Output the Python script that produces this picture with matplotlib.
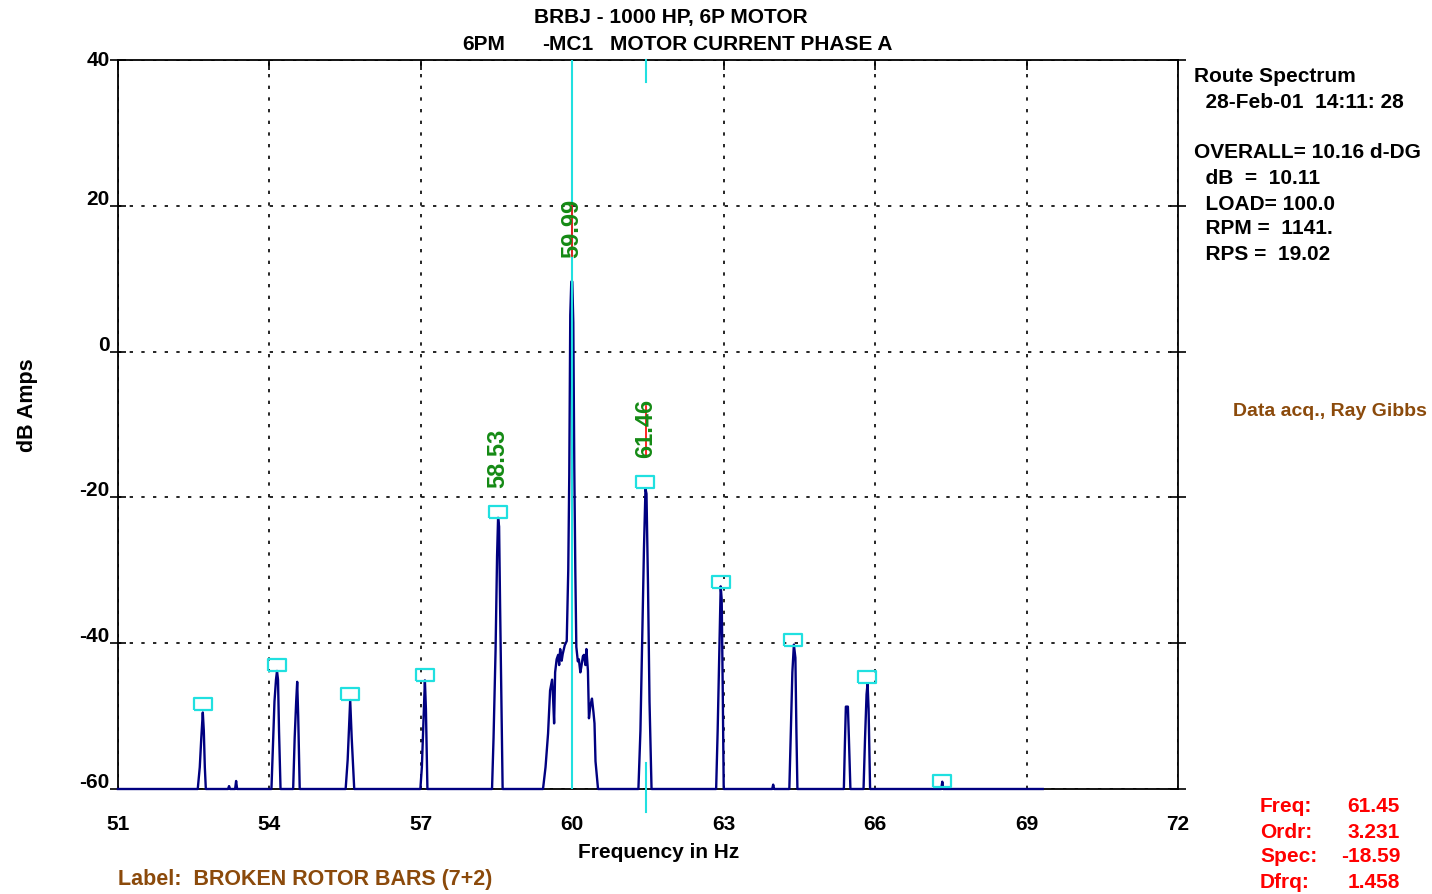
import matplotlib
matplotlib.use("Agg")
import matplotlib.pyplot as plt
from matplotlib.transforms import ScaledTranslation

plt.rcParams["font.family"] = ["Liberation Sans", "DejaVu Sans"]
plt.rcParams["font.weight"] = "bold"

# spectrum trace (Hz, dB)
trace_freq = [51.0, 52.58, 52.62, 52.65, 52.68, 52.70, 52.72, 52.74,
              53.18, 53.20, 53.22, 53.32, 53.34, 53.36,
              54.04, 54.07, 54.10, 54.13, 54.15, 54.17, 54.19, 54.22,
              54.47, 54.50, 54.53, 54.55, 54.57, 54.60,
              55.51, 55.55, 55.58, 55.60, 55.63, 55.68,
              56.99, 57.02, 57.05, 57.08, 57.10, 57.13,
              58.41, 58.44, 58.48, 58.51, 58.53, 58.55, 58.57, 58.60, 58.62,
              59.42, 59.47, 59.52, 59.56, 59.60, 59.62, 59.64, 59.66, 59.69,
              59.72, 59.74, 59.76, 59.79, 59.81, 59.85, 59.89, 59.92, 59.94,
              59.96, 59.98, 60.00, 60.02, 60.04, 60.06, 60.08, 60.11, 60.13,
              60.16, 60.18, 60.21, 60.23, 60.26, 60.28, 60.31, 60.33, 60.36,
              60.39, 60.42, 60.44, 60.46, 60.51,
              61.31, 61.35, 61.39, 61.42, 61.45, 61.47, 61.50, 61.53, 61.57,
              62.85, 62.88, 62.91, 62.94, 62.96, 62.98, 63.00,
              63.96, 63.98, 64.00,
              64.30, 64.33, 64.36, 64.39, 64.42, 64.44, 64.46,
              65.38, 65.40, 65.42, 65.46, 65.48, 65.51,
              65.77, 65.80, 65.83, 65.85, 65.87, 65.90,
              67.31, 67.33, 67.35, 69.32]
trace_db = [-60, -60, -57, -53, -49.5, -52, -57, -60,
            -60, -59.6, -60, -60, -58.9, -60,
            -60, -54, -48, -45, -43.8, -45, -52, -60,
            -60, -53, -48, -45.3, -50, -60,
            -60, -56, -51, -47.8, -53, -60,
            -60, -57, -51, -45.1, -49, -60,
            -60, -53, -41, -28, -22.8, -24, -35, -50, -60,
            -60, -57, -52.4, -46.5, -45.0, -47.6, -51, -44, -42.2,
            -41.6, -43, -40.8, -42.4, -41.5, -40.3, -39.7, -30, -17,
            5, 9.6, 9.6, 4, -16, -30, -40.5, -42.5, -42.2,
            -44, -43.2, -41.8, -41.6, -43, -40.8, -43.8, -50.3, -48.5,
            -47.6, -49.5, -51, -56.2, -60,
            -60, -52, -38, -27, -18.8, -19.5, -32, -48, -60,
            -60, -52, -42, -32.2, -34, -46, -60,
            -60, -59.4, -60,
            -60, -52, -44, -40.2, -42, -52, -60,
            -60, -54, -48.7, -48.7, -53, -60,
            -60, -53, -47, -45.5, -49, -60,
            -60, -59.0, -60, -60]

# peak markers
marker_freq = [52.68, 54.15, 55.60, 57.08, 58.53, 61.44, 62.94, 64.37, 65.84, 67.33]
marker_db = [-48.3, -43.0, -47.0, -44.4, -22.0, -17.9, -31.6, -39.6, -44.6, -58.9]

# labelled peaks
label_freq = [58.53, 59.99, 61.46]
label_db = [-22.0, 9.6, -17.9]
label_text = ["58.53", "59.99", "61.46"]
label_redline = [False, True, True]

x_ticks = [51, 54, 57, 60, 63, 66, 69, 72]
y_ticks = [-60, -40, -20, 0, 20, 40]

cursor_main = 60.0
cursor_second = 61.46

info_lines = ["Route Spectrum", "  28-Feb-01  14:11: 28", "",
              "OVERALL= 10.16 d-DG", "  dB  =  10.11", "  LOAD= 100.0",
              "  RPM =  1141.", "  RPS =  19.02"]
cursor_names = ["Freq:", "Ordr:", "Spec:", "Dfrq:"]
cursor_vals = ["61.45", "3.231", "-18.59", "1.458"]

W, H = 1432, 894
fig = plt.figure(figsize=(W / 100, H / 100), dpi=100)
ax = fig.add_axes([118 / W, 1 - 789 / H, (1178 - 118) / W, (789 - 60) / H])


def px(x, y):
    return x / W, 1 - y / H


navy = "#000080"
cyan = "#20e0e0"
green = "#148a14"
brown = "#8B4A0B"

ax.set_xlim(51, 72)
ax.set_ylim(-60, 40)
ax.set_xticks(x_ticks)
ax.set_yticks(y_ticks)
ax.grid(True, color="black", linestyle=(0, (2, 5)), linewidth=1.2)
ax.set_axisbelow(True)

ax.plot(trace_freq, trace_db, color=navy, lw=1.7, zorder=3, clip_on=False)

# cursors
ax.axvline(cursor_main, color=cyan, lw=1.5, zorder=4)
ax.plot([cursor_second, cursor_second], [40, 37], color=cyan, lw=1.5, zorder=4, clip_on=False)
ax.plot([cursor_second, cursor_second], [-56.5, -63.2], color=cyan, lw=1.5, zorder=4, clip_on=False)

rect = [(-1.5, -1), (1.5, -1), (1.5, 1), (-1.5, 1), (-1.5, -1)]
ax.plot(marker_freq, marker_db, ls="none", marker=rect, ms=13, mfc="none",
        mec=cyan, mew=1.6, zorder=5, clip_on=False)

for f, d, t, red in zip(label_freq, label_db, label_text, label_redline):
    if red:
        ax.plot([f, f], [d + 3.5, d + 10.5], color="red", lw=1.2, zorder=4)
    ax.annotate(t, (f, d), xytext=(0, 17), textcoords="offset points",
                rotation=90, ha="center", va="bottom", color=green,
                fontsize=17, fontweight="bold", zorder=6)

for s in ax.spines.values():
    s.set_color("black")
    s.set_linewidth(1.3)

ax.tick_params(axis="y", which="both", direction="inout", length=12, width=1.2,
               right=True, labelsize=15, pad=0)
ax.tick_params(axis="x", which="both", direction="in", length=7, width=1.2,
               top=True, bottom=False, labelsize=15, pad=19)
ax.set_yticklabels([str(v) for v in y_ticks])
for lab, v in zip(ax.get_yticklabels(), y_ticks):
    if v == 40:
        lab.set_verticalalignment("center")
    else:
        lab.set_verticalalignment("baseline")
        lab.set_transform(lab.get_transform() + ScaledTranslation(0, 0.01, fig.dpi_scale_trans))

fig.text(*px(27, 405), "dB Amps", rotation=90, ha="center", va="center", fontsize=15.5)
fig.text(*px(659, 852), "Frequency in Hz", ha="center", va="center", fontsize=15)

fig.text(*px(671, 17), "BRBJ - 1000 HP, 6P MOTOR", ha="center", va="center", fontsize=15)
fig.text(*px(462, 45), "6PM", ha="left", va="center", fontsize=15)
fig.text(*px(542, 45), "-MC1", ha="left", va="center", fontsize=15)
fig.text(*px(610, 45), "MOTOR CURRENT PHASE A", ha="left", va="center", fontsize=15)

info_y = [77, 102, 127, 152, 179, 204, 229, 255]
for yy, line in zip(info_y, info_lines):
    fig.text(*px(1194, yy), line, ha="left", va="center", fontsize=15)

fig.text(*px(1427, 411), "Data acq., Ray Gibbs", ha="right", va="center",
         fontsize=14, color=brown)
fig.text(*px(118, 880), "Label:  BROKEN ROTOR BARS (7+2)", ha="left", va="center",
         fontsize=15.5, color=brown)

red_y = [806, 832, 857, 883]
for yy, n, v in zip(red_y, cursor_names, cursor_vals):
    fig.text(*px(1260, yy), n, ha="left", va="center", fontsize=15, color="red")
    fig.text(*px(1400, yy), v, ha="right", va="center", fontsize=15, color="red")

fig.savefig("out.png", dpi=100)
